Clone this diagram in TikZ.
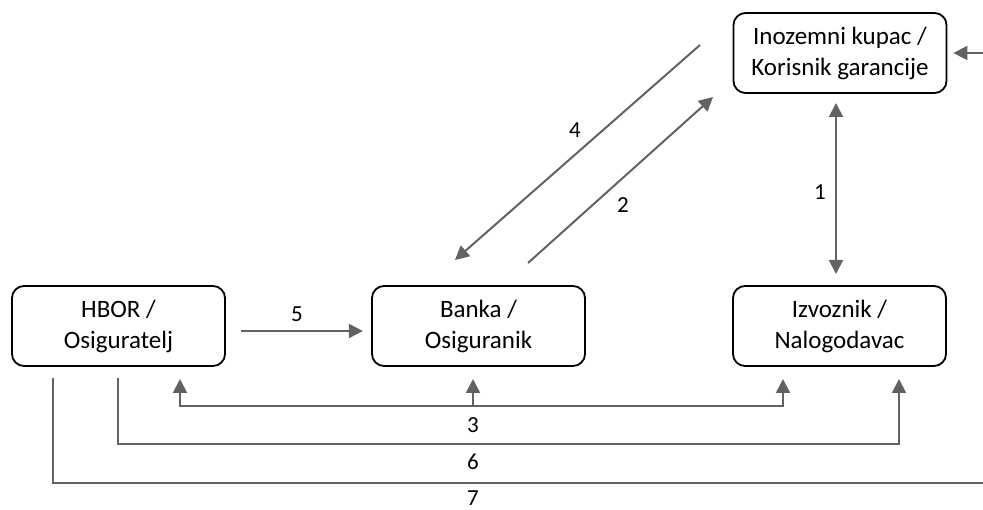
\documentclass[tikz,border=0pt]{standalone}
\usepackage{fontspec}
\setmainfont{Carlito}
\usetikzlibrary{arrows.meta}
\definecolor{lg}{RGB}{98,98,98}
\begin{document}
\begin{tikzpicture}[x=1pt,y=-1pt,
  box/.style={draw=black,line width=1.8pt,rounded corners=12pt,align=center,
    minimum width=213pt,minimum height=80pt,inner sep=0pt,
    font=\fontsize{25}{31}\selectfont},
  conn/.style={draw=lg,line width=2pt},
  arr/.style={conn,-{Triangle[width=14pt,length=14pt]}},
  darr/.style={conn,{Triangle[width=14pt,length=14pt]}-{Triangle[width=14pt,length=14pt]}},
  lbl/.style={font=\fontsize{23}{26}\selectfont,inner sep=0pt}]
\useasboundingbox (0,0) rectangle (983,510);
\node[box] (ino) at (840,53) {Inozemni kupac /\\Korisnik garancije};
\node[box] (hbor) at (118.5,326) {HBOR /\\Osiguratelj};
\node[box] (bk) at (478.5,326) {Banka /\\Osiguranik};
\node[box] (izv) at (839.5,326) {Izvoznik /\\Nalogodavac};
% free ends
\coordinate (rin) at (983,53);
\coordinate (a4s) at (700,45);
\coordinate (a4e) at (455,260);
\coordinate (a2s) at (528,263);
\coordinate (a2e) at (713,97);
\coordinate (t3h) at (180,379);
\coordinate (t3b) at (473,379);
\coordinate (t3i) at (783,379);
\coordinate (s6) at (118,378);
\coordinate (t6) at (899,379);
\coordinate (s7) at (53,378);
\coordinate (e7) at (983,483);
% arrows
\draw[arr,shorten >=6pt] (rin) -- (ino.east);
\draw[darr] (836,103) -- (836,274);
\draw[arr] (a4s) -- (a4e);
\draw[arr] (a2s) -- (a2e);
\draw[arr] (hbor.east) ++(15,5) -- ++(122,0);
\draw[arr] (t3b |- 0,406) -- (t3b);
\draw[arr] (t3b |- 0,406) -| (t3h);
\draw[arr] (t3b |- 0,406) -| (t3i);
\draw[arr] (s6) |- (450,444) -| (t6);
\draw[conn] (s7) |- (e7);
% labels
\node[lbl] (l1) at (820,192) {1};
\node[lbl] (l2) at (623,205) {2};
\node[lbl] (l4) at (575,130) {4};
\node[lbl] (l5) at (297,314) {5};
\node[lbl] (l3) at (473,425) {3};
\node[lbl] (l6) at (473,462) {6};
\node[lbl] (l7) at (473,498) {7};
\end{tikzpicture}
\end{document}
